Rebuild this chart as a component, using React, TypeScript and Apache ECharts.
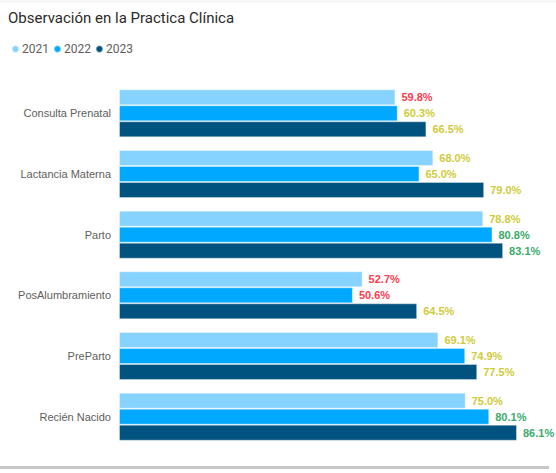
import React, { useEffect, useRef } from "react";
import * as echarts from "echarts";

const categories = [
  "Consulta Prenatal",
  "Lactancia Materna",
  "Parto",
  "PosAlumbramiento",
  "PreParto",
  "Recién Nacido",
];
const seriesNames = ["2021", "2022", "2023"];
const values2021 = [59.8, 68.0, 78.8, 52.7, 69.1, 75.0];
const values2022 = [60.3, 65.0, 80.8, 50.6, 74.9, 80.1];
const values2023 = [66.5, 79.0, 83.1, 64.5, 77.5, 86.1];
const barColors = ["#87D3FF", "#00A8FF", "#00527F"];

function labelColor(v: number): string {
  if (v < 60) return "#FF3B4F";
  if (v < 80) return "#D0CC3A";
  return "#3AAA6C";
}

export default function App() {
  const ref = useRef<HTMLDivElement>(null);
  useEffect(() => {
    if (!ref.current) return;
    const chart = echarts.init(ref.current, undefined, { renderer: "svg" });
    const all = [values2021, values2022, values2023];
    chart.setOption({
      animation: false,
      backgroundColor: "#FFFFFF",
      title: {
        text: "Observación en la Practica Clínica",
        left: 3,
        top: 5,
        textStyle: {
          fontFamily: "Roboto",
          fontSize: 15,
          fontWeight: "normal",
          color: "#2B2A29",
        },
      },
      legend: {
        left: 6,
        top: 38,
        icon: "circle",
        itemWidth: 7,
        itemHeight: 7,
        itemGap: 4,
        textStyle: { fontFamily: "Roboto", fontSize: 12, color: "#605E5C", padding: [0, 0, 0, -2] },
        data: seriesNames,
      },
      grid: { left: 119, top: 83, width: 416, height: 364, containLabel: false },
      xAxis: {
        type: "value",
        min: 0,
        max: 90,
        show: false,
      },
      yAxis: {
        type: "category",
        data: categories,
        inverse: true,
        axisLine: { show: false },
        axisTick: { show: false },
        axisLabel: {
          margin: 8,
          fontFamily: "Liberation Sans",
          fontSize: 11,
          color: "#605E5C",
        },
      },
      series: all.map((vals, i) => ({
        name: seriesNames[i],
        type: "bar",
        barWidth: 16,
        barGap: "0%",
        itemStyle: { color: barColors[i], borderColor: "rgba(255,255,255,0.35)", borderWidth: 1 },
        label: {
          show: true,
          position: "right",
          distance: 6,
          fontFamily: "Liberation Sans",
          fontSize: 11,
          fontWeight: "bold",
          formatter: (p: any) => Number(p.value).toFixed(1) + "%",
        },
        data: vals.map((v) => ({ value: v, label: { color: labelColor(v) } })),
      })),
      graphic: [
        { type: "rect", left: 0, top: 0, shape: { width: 556, height: 3 }, style: { fill: "#F6F6F6" } },
        { type: "rect", left: 0, top: 466, shape: { width: 549, height: 3 }, style: { fill: "#C8C6C4" } },
      ],
    });
    return () => chart.dispose();
  }, []);
  return (
    <div
      ref={ref}
      style={{ position: "fixed", left: 0, top: 0, width: 556, height: 473 }}
    />
  );
}
